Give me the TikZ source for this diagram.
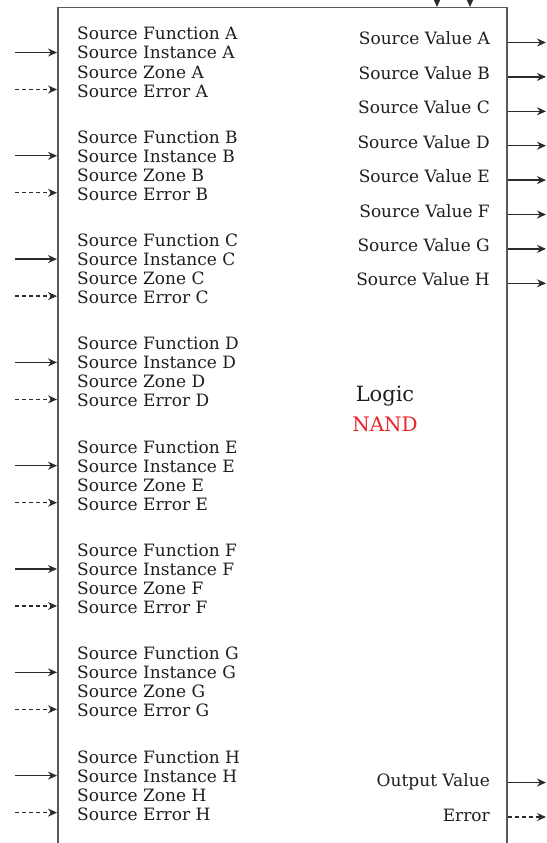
\documentclass[tikz,border=0pt]{standalone}
\usepackage{fontspec}
\setmainfont{DejaVu Serif}
\usepackage{xcolor}
\usetikzlibrary{arrows.meta, positioning}
\definecolor{lline}{HTML}{2B2B2B}
\definecolor{lbox}{HTML}{5A5A5A}
\definecolor{ltext}{HTML}{1E1E1E}
\definecolor{lred}{HTML}{E8262B}
\tikzset{
  port/.style={font=\fontsize{17}{19}\selectfont, text=ltext, inner sep=0pt},
  inport/.style={port, anchor=base west},
  outport/.style={port, anchor=base east},
  blkbox/.style={draw=lbox, line width=1.5pt, inner sep=0pt, anchor=north west,
                 minimum width=449pt, minimum height=900pt},
  sig/.style={-{Stealth[length=9pt, width=8pt]}, lline, line width=1.3pt},
  errsig/.style={sig, dash pattern=on 4pt off 3pt},
}

\begin{document}
\begin{tikzpicture}[x=1pt, y=-1pt]

  \useasboundingbox (0,0) rectangle (546,843);
  \clip (0,0) rectangle (546,843);

  \node[blkbox] (blk) at (57,7) {};

  % inputs, one group of four lines per source
  \foreach \g [count=\i from 0] in {A,B,C,D,E,F,G,H} {
    \pgfmathsetmacro{\gy}{34+103.3*\i}
    \node[inport] (fn\g) at (77,\gy+6)    {Source Function \g};
    \node[inport] (in\g) at (77,\gy+25)   {Source Instance \g};
    \node[inport] (zn\g) at (77,\gy+44)   {Source Zone \g};
    \node[inport] (er\g) at (77,\gy+63)   {Source Error \g};
    \coordinate (si\g) at (15,\gy+18.5);
    \coordinate (se\g) at (15,\gy+55.5);
    \draw[sig]    (si\g) -- (si\g -| blk.west);
    \draw[errsig] (se\g) -- (se\g -| blk.west);
  }

  % outputs
  \foreach \g [count=\i from 0] in {A,B,C,D,E,F,G,H} {
    \pgfmathsetmacro{\gy}{39+34.4*\i}
    \node[outport] (val\g) at (490,\gy+6) {Source Value \g};
    \coordinate (vo\g) at (546,\gy+3.5);
    \draw[sig] (vo\g -| blk.east) -- (vo\g);
  }

  \node[outport] (outval) at (490,786) {Output Value};
  \node[outport] (outerr) at (490,821) {Error};
  \coordinate (ov) at (546,782.5);
  \coordinate (oe) at (546,817);
  \draw[sig]    (ov -| blk.east) -- (ov);
  \draw[errsig] (oe -| blk.east) -- (oe);

  % top inputs
  \coordinate (tp1) at (437,-12);
  \coordinate (tp2) at (470,-12);
  \draw[sig] (tp1) -- (tp1 |- blk.north);
  \draw[sig] (tp2) -- (tp2 |- blk.north);

  \node[port, font=\fontsize{21}{23}\selectfont] (lgc) at (385,396) {Logic};
  \node[port, text=lred, font=\fontsize{20}{23}\selectfont] (nand) at (385,424) {NAND};

\end{tikzpicture}
\end{document}
